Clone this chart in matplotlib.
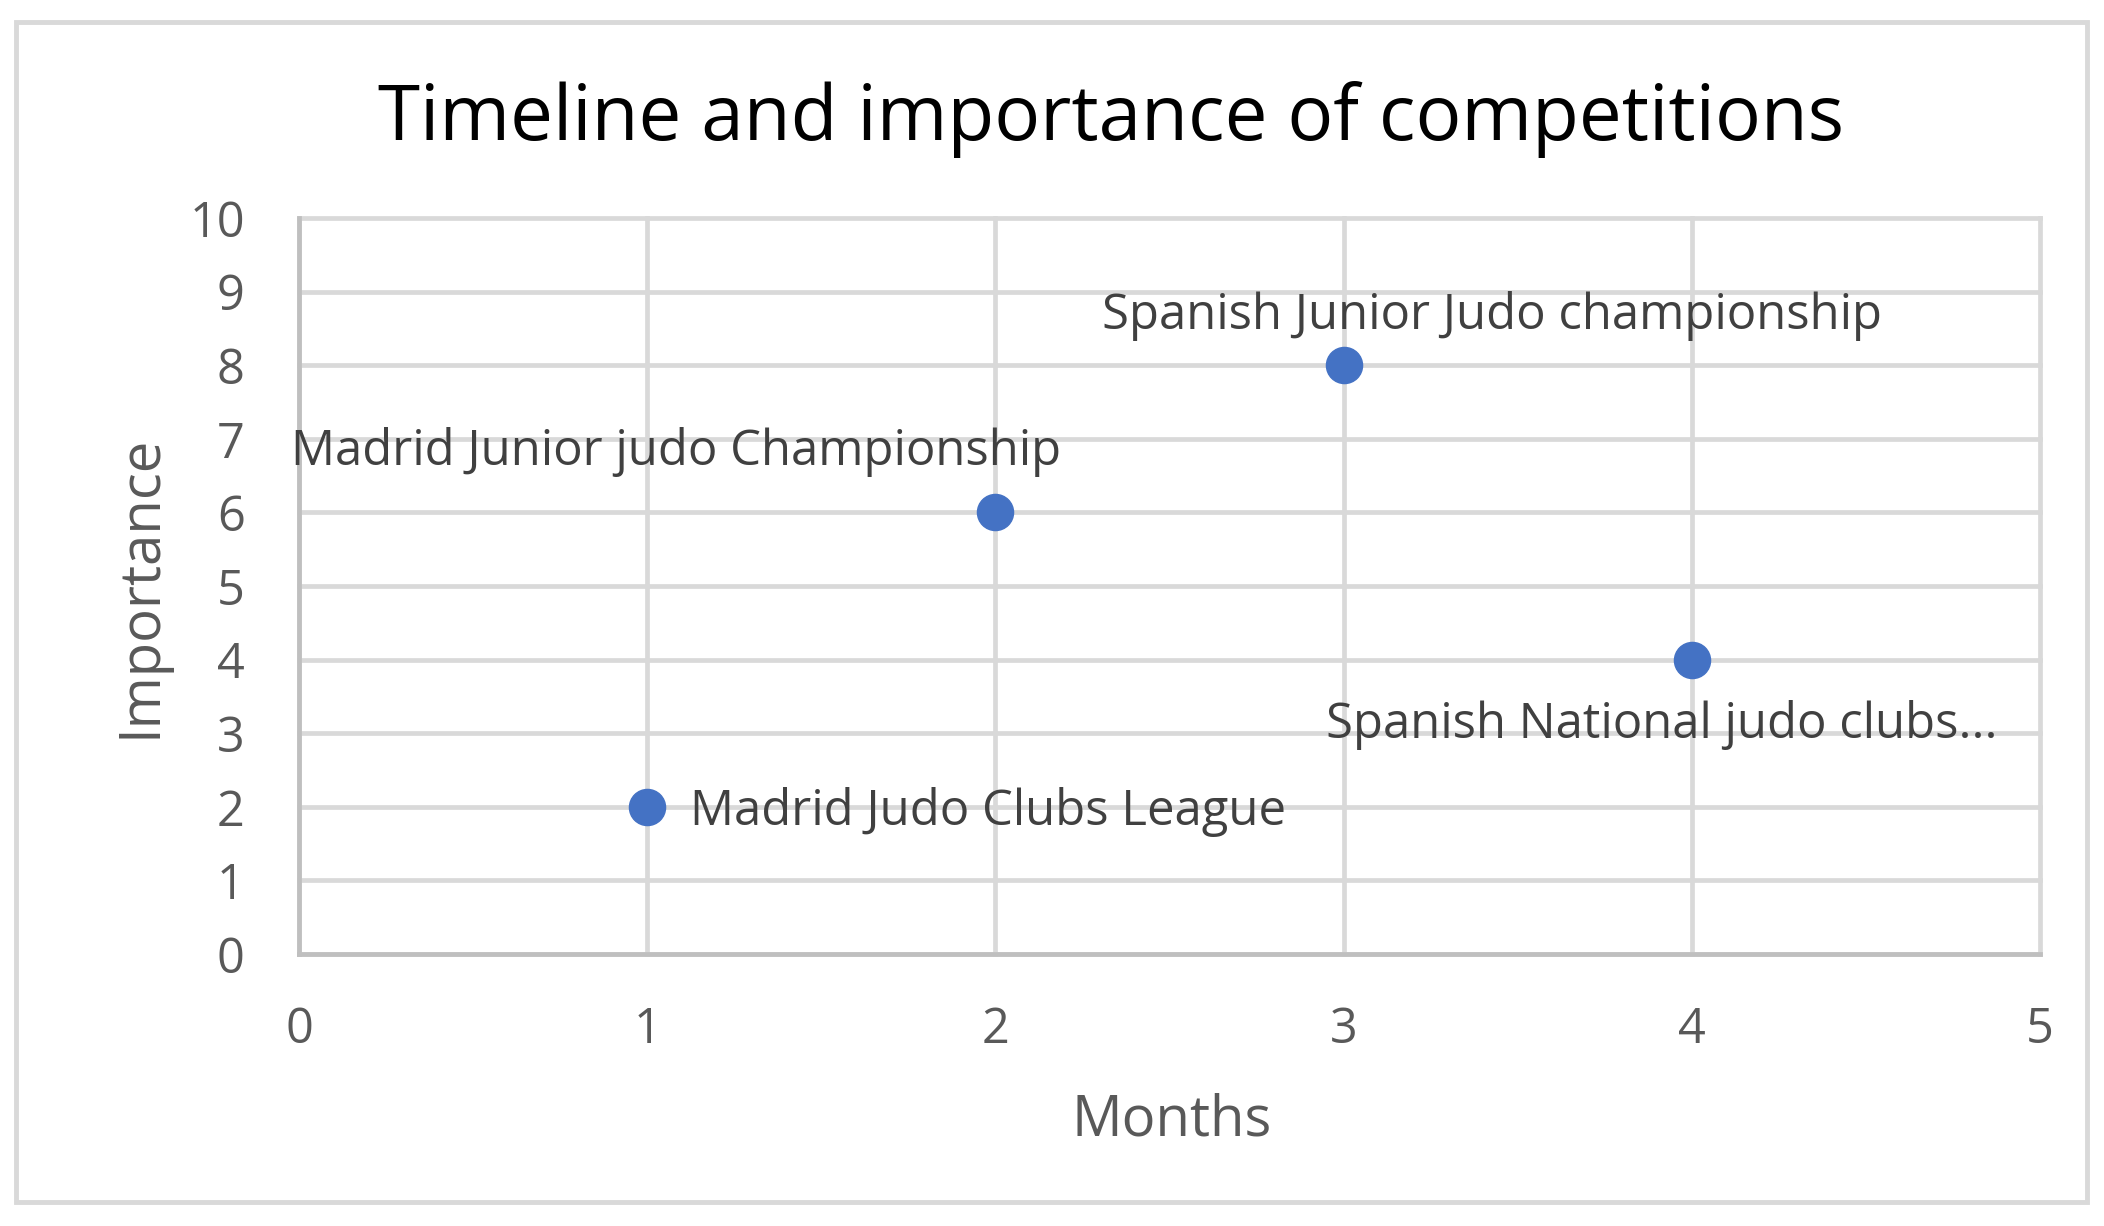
import matplotlib
matplotlib.use("Agg")
import matplotlib.pyplot as plt
from matplotlib.patches import Rectangle

# ---- data ----
months = [1, 2, 3, 4]
importance = [2, 6, 8, 4]
labels = ["Madrid Judo Clubs League",
          "Madrid Junior judo Championship",
          "Spanish Junior Judo championship",
          "Spanish National judo clubs..."]
x_ticks = [0, 1, 2, 3, 4, 5]
y_ticks = [0, 1, 2, 3, 4, 5, 6, 7, 8, 9, 10]
title = "Timeline and importance of competitions"
x_title = "Months"
y_title = "Importance"

# ---- layout (label offsets in data units, alignment) ----
label_offsets = [(0.123, -0.247), (-0.917, 0.644), (0.426, 0.492), (-0.087, -1.065)]
label_ha = ["left", "center", "center", "center"]

W, H = 2104, 1226
DPI = 100
plt.rcParams['font.family'] = ['Open Sans', 'DejaVu Sans']

fig = plt.figure(figsize=(W / DPI, H / DPI), dpi=DPI)
fig.patch.set_facecolor("white")

# outer chart border
fig.patches.append(Rectangle((16 / W, 1 - 1202 / H), (2087 - 16) / W, (1202 - 22) / H,
                             transform=fig.transFigure, fill=False,
                             edgecolor="#D9D9D9", linewidth=3.5))

left, right, top, bottom = 299, 2040, 218, 954
ax = fig.add_axes([left / W, 1 - bottom / H, (right - left) / W, (bottom - top) / H])
ax.set_xlim(x_ticks[0], x_ticks[-1])
ax.set_ylim(y_ticks[0], y_ticks[-1])
ax.set_xticks(x_ticks)
ax.set_yticks(y_ticks)
ax.grid(True, color="#D9D9D9", linewidth=3.4, zorder=0)
for ln in ax.get_xgridlines() + ax.get_ygridlines():
    ln.set_clip_on(False)
ax.set_axisbelow(True)
for s in ["top", "right"]:
    ax.spines[s].set_visible(False)
for s in ["left", "bottom"]:
    ax.spines[s].set_color("#BFBFBF")
    ax.spines[s].set_linewidth(3.4)
    ax.spines[s].set_zorder(1)
ax.tick_params(axis="both", length=0, labelsize=35, labelcolor="#595959")
ax.tick_params(axis="y", pad=39)
ax.tick_params(axis="x", pad=37)

ax.plot(months, importance, linestyle="none", marker="o", markersize=26,
        color="#4472C4", zorder=5, clip_on=False)

for x, y, lab, (dx, dy), ha in zip(months, importance, labels, label_offsets, label_ha):
    ax.annotate(lab, xy=(x, y), xytext=(x + dx, y + dy), textcoords="data",
                ha=ha, va="baseline", fontsize=35.3, color="#404040", zorder=6,
                annotation_clip=False)

fig.text(1111.5 / W, 1 - 140 / H, title, ha="center", va="baseline",
         fontsize=55, color="#000000")
fig.text(1172 / W, 1 - 1135 / H, x_title, ha="center", va="baseline",
         fontsize=40.5, color="#595959")
fig.text(141 / W, 1 - 586 / H, y_title, ha="center", va="center", rotation=90,
         fontsize=40.5, color="#595959")

fig.savefig("out.png", dpi=DPI, facecolor="white")
